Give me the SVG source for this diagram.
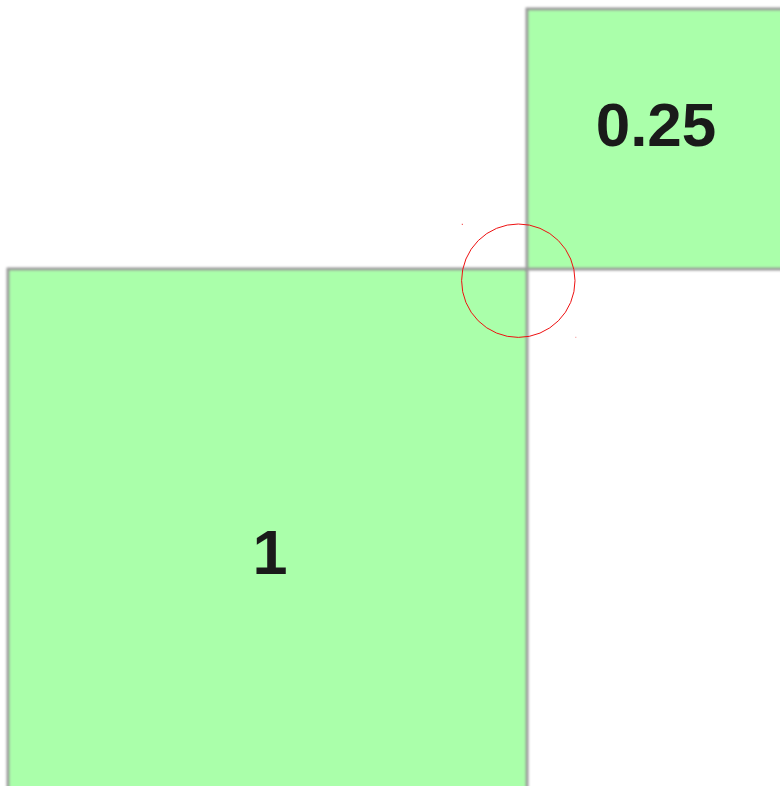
<svg xmlns="http://www.w3.org/2000/svg" width="780" height="786" viewBox="0 0 780 786">
<defs>
<filter id="soft" x="-5%" y="-5%" width="110%" height="110%"><feGaussianBlur stdDeviation="0.8"/></filter>
</defs>
<style>
.sq{fill:#aaffaa;stroke:#9a9a9a;stroke-width:3;filter:url(#soft)}
.lbl{font-family:"Liberation Sans",Arial,sans-serif;font-weight:bold;fill:#1a1a1a;text-anchor:middle}
</style>
<rect width="780" height="786" fill="#ffffff"/>
<g id="square-1">
<rect class="sq" x="8" y="269" width="519" height="540"/>
<text class="lbl" x="270" y="574" font-size="63">1</text>
</g>
<g id="square-025">
<rect class="sq" x="527" y="9" width="270" height="260"/>
<text class="lbl" x="656" y="146" font-size="62">0.25</text>
</g>
<g id="connectors">
<circle cx="518.3" cy="280.7" r="56.7" fill="none" stroke="#ee1111" stroke-width="1"/>
<rect x="461.8" y="223.8" width="1" height="1" fill="#ee1111"/>
<rect x="575.3" y="336.8" width="1" height="1" fill="#ee1111" opacity="0.5"/>
</g>
</svg>
